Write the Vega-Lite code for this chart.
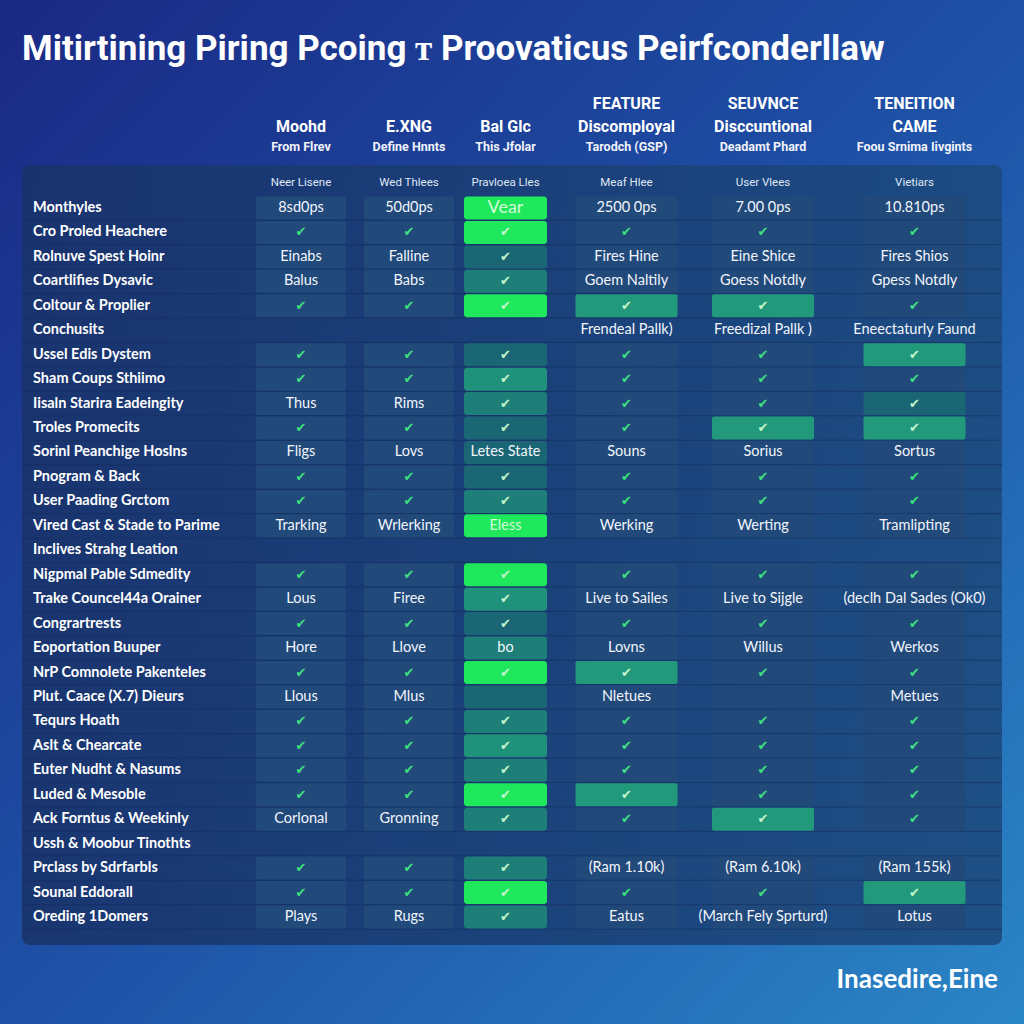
{
  "$schema": "https://vega.github.io/schema/vega-lite/v6.json",
  "width": 1024,
  "height": 1024,
  "autosize": {"type": "fit", "contains": "padding"},
  "padding": 0,
  "background": "#1f4fa0",
  "config": {"view": {"stroke": null}},
  "datasets": {
    "rows": [
      {"r": 1, "label": "Monthyles"},
      {"r": 2, "label": "Cro Proled Heachere"},
      {"r": 3, "label": "Rolnuve Spest Hoinr"},
      {"r": 4, "label": "Coartlifies Dysavic"},
      {"r": 5, "label": "Coltour & Proplier"},
      {"r": 6, "label": "Conchusits"},
      {"r": 7, "label": "Ussel Edis Dystem"},
      {"r": 8, "label": "Sham Coups Sthiimo"},
      {"r": 9, "label": "Iisaln Starira Eadeingity"},
      {"r": 10, "label": "Troles Promecits"},
      {"r": 11, "label": "Sorinl Peanchige Hoslns"},
      {"r": 12, "label": "Pnogram & Back"},
      {"r": 13, "label": "User Paading Grctom"},
      {"r": 14, "label": "Vired Cast & Stade to Parime"},
      {"r": 15, "label": "Inclives Strahg Leation"},
      {"r": 16, "label": "Nigpmal Pable Sdmedity"},
      {"r": 17, "label": "Trake Councel44a Orainer"},
      {"r": 18, "label": "Congrartrests"},
      {"r": 19, "label": "Eoportation Buuper"},
      {"r": 20, "label": "NrP Comnolete Pakenteles"},
      {"r": 21, "label": "Plut. Caace (X.7) Dieurs"},
      {"r": 22, "label": "Tequrs Hoath"},
      {"r": 23, "label": "Aslt & Chearcate"},
      {"r": 24, "label": "Euter Nudht & Nasums"},
      {"r": 25, "label": "Luded & Mesoble"},
      {"r": 26, "label": "Ack Forntus & Weekinly"},
      {"r": 27, "label": "Ussh & Moobur Tinothts"},
      {"r": 28, "label": "Prclass by Sdrfarbls"},
      {"r": 29, "label": "Sounal Eddorall"},
      {"r": 30, "label": "Oreding 1Domers"}
    ],
    "headers": [
      {"c": 1, "top": "", "main": "Moohd", "sub": "From Flrev", "cap": "Neer Lisene"},
      {"c": 2, "top": "", "main": "E.XNG", "sub": "Define Hnnts", "cap": "Wed Thlees"},
      {"c": 3, "top": "", "main": "Bal Glc", "sub": "This Jfolar", "cap": "Pravloea Lles"},
      {"c": 4, "top": "FEATURE", "main": "Discomployal", "sub": "Tarodch (GSP)", "cap": "Meaf Hlee"},
      {"c": 5, "top": "SEUVNCE", "main": "Disccuntional", "sub": "Deadamt Phard", "cap": "User Vlees"},
      {"c": 6, "top": "TENEITION", "main": "CAME", "sub": "Foou Srnima Iivgints", "cap": "Vietiars"}
    ],
    "cells": [
      {"r": 1, "c": 1, "v": "8sd0ps", "f": "plain"},
      {"r": 1, "c": 2, "v": "50d0ps", "f": "plain"},
      {"r": 1, "c": 3, "v": "Vear", "f": "bright"},
      {"r": 1, "c": 4, "v": "2500 0ps", "f": "plain"},
      {"r": 1, "c": 5, "v": "7.00 0ps", "f": "plain"},
      {"r": 1, "c": 6, "v": "10.810ps", "f": "plain"},
      {"r": 2, "c": 1, "v": "✔", "f": "plain"},
      {"r": 2, "c": 2, "v": "✔", "f": "plain"},
      {"r": 2, "c": 3, "v": "✔", "f": "bright"},
      {"r": 2, "c": 4, "v": "✔", "f": "plain"},
      {"r": 2, "c": 5, "v": "✔", "f": "plain"},
      {"r": 2, "c": 6, "v": "✔", "f": "plain"},
      {"r": 3, "c": 1, "v": "Einabs", "f": "plain"},
      {"r": 3, "c": 2, "v": "Falline", "f": "plain"},
      {"r": 3, "c": 3, "v": "✔", "f": "tealdark"},
      {"r": 3, "c": 4, "v": "Fires Hine", "f": "plain"},
      {"r": 3, "c": 5, "v": "Eine Shice", "f": "plain"},
      {"r": 3, "c": 6, "v": "Fires Shios", "f": "plain"},
      {"r": 4, "c": 1, "v": "Balus", "f": "plain"},
      {"r": 4, "c": 2, "v": "Babs", "f": "plain"},
      {"r": 4, "c": 3, "v": "✔", "f": "teal"},
      {"r": 4, "c": 4, "v": "Goem Naltily", "f": "plain"},
      {"r": 4, "c": 5, "v": "Goess Notdly", "f": "plain"},
      {"r": 4, "c": 6, "v": "Gpess Notdly", "f": "plain"},
      {"r": 5, "c": 1, "v": "✔", "f": "plain"},
      {"r": 5, "c": 2, "v": "✔", "f": "plain"},
      {"r": 5, "c": 3, "v": "✔", "f": "bright"},
      {"r": 5, "c": 4, "v": "✔", "f": "hl"},
      {"r": 5, "c": 5, "v": "✔", "f": "hl"},
      {"r": 5, "c": 6, "v": "✔", "f": "plain"},
      {"r": 6, "c": 4, "v": "Frendeal Pallk)", "f": "none"},
      {"r": 6, "c": 5, "v": "Freedizal Pallk )", "f": "none"},
      {"r": 6, "c": 6, "v": "Eneectaturly Faund", "f": "none"},
      {"r": 7, "c": 1, "v": "✔", "f": "plain"},
      {"r": 7, "c": 2, "v": "✔", "f": "plain"},
      {"r": 7, "c": 3, "v": "✔", "f": "tealdark"},
      {"r": 7, "c": 4, "v": "✔", "f": "plain"},
      {"r": 7, "c": 5, "v": "✔", "f": "plain"},
      {"r": 7, "c": 6, "v": "✔", "f": "hl"},
      {"r": 8, "c": 1, "v": "✔", "f": "plain"},
      {"r": 8, "c": 2, "v": "✔", "f": "plain"},
      {"r": 8, "c": 3, "v": "✔", "f": "tealgreen"},
      {"r": 8, "c": 4, "v": "✔", "f": "plain"},
      {"r": 8, "c": 5, "v": "✔", "f": "plain"},
      {"r": 8, "c": 6, "v": "✔", "f": "plain"},
      {"r": 9, "c": 1, "v": "Thus", "f": "plain"},
      {"r": 9, "c": 2, "v": "Rims", "f": "plain"},
      {"r": 9, "c": 3, "v": "✔", "f": "teal"},
      {"r": 9, "c": 4, "v": "✔", "f": "plain"},
      {"r": 9, "c": 5, "v": "✔", "f": "plain"},
      {"r": 9, "c": 6, "v": "✔", "f": "tealdark"},
      {"r": 10, "c": 1, "v": "✔", "f": "plain"},
      {"r": 10, "c": 2, "v": "✔", "f": "plain"},
      {"r": 10, "c": 3, "v": "✔", "f": "tealdark"},
      {"r": 10, "c": 4, "v": "✔", "f": "plain"},
      {"r": 10, "c": 5, "v": "✔", "f": "hl"},
      {"r": 10, "c": 6, "v": "✔", "f": "hl"},
      {"r": 11, "c": 1, "v": "Fligs", "f": "plain"},
      {"r": 11, "c": 2, "v": "Lovs", "f": "plain"},
      {"r": 11, "c": 3, "v": "Letes State", "f": "tealdark"},
      {"r": 11, "c": 4, "v": "Souns", "f": "plain"},
      {"r": 11, "c": 5, "v": "Sorius", "f": "plain"},
      {"r": 11, "c": 6, "v": "Sortus", "f": "plain"},
      {"r": 12, "c": 1, "v": "✔", "f": "plain"},
      {"r": 12, "c": 2, "v": "✔", "f": "plain"},
      {"r": 12, "c": 3, "v": "✔", "f": "tealdark"},
      {"r": 12, "c": 4, "v": "✔", "f": "plain"},
      {"r": 12, "c": 5, "v": "✔", "f": "plain"},
      {"r": 12, "c": 6, "v": "✔", "f": "plain"},
      {"r": 13, "c": 1, "v": "✔", "f": "plain"},
      {"r": 13, "c": 2, "v": "✔", "f": "plain"},
      {"r": 13, "c": 3, "v": "✔", "f": "teal"},
      {"r": 13, "c": 4, "v": "✔", "f": "plain"},
      {"r": 13, "c": 5, "v": "✔", "f": "plain"},
      {"r": 13, "c": 6, "v": "✔", "f": "plain"},
      {"r": 14, "c": 1, "v": "Trarking", "f": "plain"},
      {"r": 14, "c": 2, "v": "Wrlerking", "f": "plain"},
      {"r": 14, "c": 3, "v": "Eless", "f": "bright"},
      {"r": 14, "c": 4, "v": "Werking", "f": "plain"},
      {"r": 14, "c": 5, "v": "Werting", "f": "plain"},
      {"r": 14, "c": 6, "v": "Tramlipting", "f": "plain"},
      {"r": 16, "c": 1, "v": "✔", "f": "plain"},
      {"r": 16, "c": 2, "v": "✔", "f": "plain"},
      {"r": 16, "c": 3, "v": "✔", "f": "bright"},
      {"r": 16, "c": 4, "v": "✔", "f": "plain"},
      {"r": 16, "c": 5, "v": "✔", "f": "plain"},
      {"r": 16, "c": 6, "v": "✔", "f": "plain"},
      {"r": 17, "c": 1, "v": "Lous", "f": "plain"},
      {"r": 17, "c": 2, "v": "Firee", "f": "plain"},
      {"r": 17, "c": 3, "v": "✔", "f": "tealgreen"},
      {"r": 17, "c": 4, "v": "Live to Sailes", "f": "plain"},
      {"r": 17, "c": 5, "v": "Live to Sijgle", "f": "plain"},
      {"r": 17, "c": 6, "v": "(declh Dal Sades (Ok0)", "f": "plain"},
      {"r": 18, "c": 1, "v": "✔", "f": "plain"},
      {"r": 18, "c": 2, "v": "✔", "f": "plain"},
      {"r": 18, "c": 3, "v": "✔", "f": "tealdark"},
      {"r": 18, "c": 4, "v": "✔", "f": "plain"},
      {"r": 18, "c": 5, "v": "✔", "f": "plain"},
      {"r": 18, "c": 6, "v": "✔", "f": "plain"},
      {"r": 19, "c": 1, "v": "Hore", "f": "plain"},
      {"r": 19, "c": 2, "v": "Llove", "f": "plain"},
      {"r": 19, "c": 3, "v": "bo", "f": "teal"},
      {"r": 19, "c": 4, "v": "Lovns", "f": "plain"},
      {"r": 19, "c": 5, "v": "Willus", "f": "plain"},
      {"r": 19, "c": 6, "v": "Werkos", "f": "plain"},
      {"r": 20, "c": 1, "v": "✔", "f": "plain"},
      {"r": 20, "c": 2, "v": "✔", "f": "plain"},
      {"r": 20, "c": 3, "v": "✔", "f": "bright"},
      {"r": 20, "c": 4, "v": "✔", "f": "hl"},
      {"r": 20, "c": 5, "v": "✔", "f": "plain"},
      {"r": 20, "c": 6, "v": "✔", "f": "plain"},
      {"r": 21, "c": 1, "v": "Llous", "f": "plain"},
      {"r": 21, "c": 2, "v": "Mlus", "f": "plain"},
      {"r": 21, "c": 3, "v": "", "f": "tealdark"},
      {"r": 21, "c": 4, "v": "Nletues", "f": "plain"},
      {"r": 21, "c": 5, "v": "", "f": "plain"},
      {"r": 21, "c": 6, "v": "Metues", "f": "plain"},
      {"r": 22, "c": 1, "v": "✔", "f": "plain"},
      {"r": 22, "c": 2, "v": "✔", "f": "plain"},
      {"r": 22, "c": 3, "v": "✔", "f": "teal"},
      {"r": 22, "c": 4, "v": "✔", "f": "plain"},
      {"r": 22, "c": 5, "v": "✔", "f": "plain"},
      {"r": 22, "c": 6, "v": "✔", "f": "plain"},
      {"r": 23, "c": 1, "v": "✔", "f": "plain"},
      {"r": 23, "c": 2, "v": "✔", "f": "plain"},
      {"r": 23, "c": 3, "v": "✔", "f": "tealgreen"},
      {"r": 23, "c": 4, "v": "✔", "f": "plain"},
      {"r": 23, "c": 5, "v": "✔", "f": "plain"},
      {"r": 23, "c": 6, "v": "✔", "f": "plain"},
      {"r": 24, "c": 1, "v": "✔", "f": "plain"},
      {"r": 24, "c": 2, "v": "✔", "f": "plain"},
      {"r": 24, "c": 3, "v": "✔", "f": "teal"},
      {"r": 24, "c": 4, "v": "✔", "f": "plain"},
      {"r": 24, "c": 5, "v": "✔", "f": "plain"},
      {"r": 24, "c": 6, "v": "✔", "f": "plain"},
      {"r": 25, "c": 1, "v": "✔", "f": "plain"},
      {"r": 25, "c": 2, "v": "✔", "f": "plain"},
      {"r": 25, "c": 3, "v": "✔", "f": "bright"},
      {"r": 25, "c": 4, "v": "✔", "f": "hl"},
      {"r": 25, "c": 5, "v": "✔", "f": "plain"},
      {"r": 25, "c": 6, "v": "✔", "f": "plain"},
      {"r": 26, "c": 1, "v": "Corlonal", "f": "plain"},
      {"r": 26, "c": 2, "v": "Gronning", "f": "plain"},
      {"r": 26, "c": 3, "v": "✔", "f": "teal"},
      {"r": 26, "c": 4, "v": "✔", "f": "plain"},
      {"r": 26, "c": 5, "v": "✔", "f": "hl"},
      {"r": 26, "c": 6, "v": "✔", "f": "plain"},
      {"r": 28, "c": 1, "v": "✔", "f": "plain"},
      {"r": 28, "c": 2, "v": "✔", "f": "plain"},
      {"r": 28, "c": 3, "v": "✔", "f": "teal"},
      {"r": 28, "c": 4, "v": "(Ram 1.10k)", "f": "plain"},
      {"r": 28, "c": 5, "v": "(Ram 6.10k)", "f": "plain"},
      {"r": 28, "c": 6, "v": "(Ram 155k)", "f": "plain"},
      {"r": 29, "c": 1, "v": "✔", "f": "plain"},
      {"r": 29, "c": 2, "v": "✔", "f": "plain"},
      {"r": 29, "c": 3, "v": "✔", "f": "bright"},
      {"r": 29, "c": 4, "v": "✔", "f": "plain"},
      {"r": 29, "c": 5, "v": "✔", "f": "plain"},
      {"r": 29, "c": 6, "v": "✔", "f": "hl"},
      {"r": 30, "c": 1, "v": "Plays", "f": "plain"},
      {"r": 30, "c": 2, "v": "Rugs", "f": "plain"},
      {"r": 30, "c": 3, "v": "✔", "f": "teal"},
      {"r": 30, "c": 4, "v": "Eatus", "f": "plain"},
      {"r": 30, "c": 5, "v": "(March Fely Sprturd)", "f": "plain"},
      {"r": 30, "c": 6, "v": "Lotus", "f": "plain"}
    ]
  },
  "layer": [
    {
      "data": {"values": [{}]},
      "mark": {"type": "rect", "color": {"gradient": "linear", "x1": 0, "y1": 0, "x2": 1, "y2": 1, "stops": [{"offset": 0, "color": "#1a2984"}, {"offset": 0.5, "color": "#1e50a6"}, {"offset": 1, "color": "#2a86c6"}]}},
      "encoding": {
        "x": {"datum": -1, "type": "quantitative", "scale": {"domain": [-1, 0, 1, 2, 3, 4, 5, 6, 7], "range": [0, 33, 301, 409, 505.5, 626.5, 763, 914.5, 1024], "nice": false, "zero": false}, "axis": null},
        "x2": {"datum": 7},
        "y": {"datum": -7.508, "type": "quantitative", "scale": {"domain": [-7.508, 34.377], "range": [0, 1024], "nice": false, "zero": false}, "axis": null},
        "y2": {"datum": 34.377}
      }
    },
    {
      "data": {"values": [{}]},
      "mark": {"type": "rect", "cornerRadius": 8, "opacity": 0.9, "color": {"gradient": "linear", "x1": 0, "y1": 0, "x2": 1, "y2": 0, "stops": [{"offset": 0, "color": "#19336b"}, {"offset": 1, "color": "#1c4a7e"}]}},
      "encoding": {
        "x": {"datum": -0.3333, "type": "quantitative", "scale": {"domain": [-1, 0, 1, 2, 3, 4, 5, 6, 7], "range": [0, 33, 301, 409, 505.5, 626.5, 763, 914.5, 1024], "nice": false, "zero": false}, "axis": null},
        "x2": {"datum": 6.799},
        "y": {"datum": -0.759, "type": "quantitative", "scale": {"domain": [-7.508, 34.377], "range": [0, 1024], "nice": false, "zero": false}, "axis": null},
        "y2": {"datum": 31.146}
      }
    },
    {
      "data": {"name": "rows"},
      "mark": {"type": "rule", "stroke": "#152d5c", "strokeWidth": 1, "opacity": 0.6, "yOffset": 12.2},
      "encoding": {
        "x": {"datum": -0.3333, "type": "quantitative", "scale": {"domain": [-1, 0, 1, 2, 3, 4, 5, 6, 7], "range": [0, 33, 301, 409, 505.5, 626.5, 763, 914.5, 1024], "nice": false, "zero": false}, "axis": null},
        "x2": {"datum": 6.799},
        "y": {"field": "r", "type": "quantitative", "scale": {"domain": [-7.508, 34.377], "range": [0, 1024], "nice": false, "zero": false}, "axis": null}
      }
    },
    {
      "data": {"name": "cells"},
      "transform": [{"filter": "datum.f !== 'none' && datum.c <= 2"}],
      "mark": {"type": "rect", "width": 90, "height": 23, "cornerRadius": 2},
      "encoding": {
        "x": {"field": "c", "type": "quantitative", "scale": {"domain": [-1, 0, 1, 2, 3, 4, 5, 6, 7], "range": [0, 33, 301, 409, 505.5, 626.5, 763, 914.5, 1024], "nice": false, "zero": false}, "axis": null},
        "y": {"field": "r", "type": "quantitative", "scale": {"domain": [-7.508, 34.377], "range": [0, 1024], "nice": false, "zero": false}, "axis": null},
        "fill": {"field": "f", "type": "nominal", "legend": null, "scale": {"domain": ["plain", "bright", "hl", "teal", "tealdark", "tealgreen"], "range": ["#21497a", "#1fe85c", "#22997a", "#1d7f77", "#1b6674", "#20917a"]}}
      }
    },
    {
      "data": {"name": "cells"},
      "transform": [{"filter": "datum.f !== 'none' && datum.c === 3"}],
      "mark": {"type": "rect", "width": 83, "height": 23, "cornerRadius": 3},
      "encoding": {
        "x": {"field": "c", "type": "quantitative", "scale": {"domain": [-1, 0, 1, 2, 3, 4, 5, 6, 7], "range": [0, 33, 301, 409, 505.5, 626.5, 763, 914.5, 1024], "nice": false, "zero": false}, "axis": null},
        "y": {"field": "r", "type": "quantitative", "scale": {"domain": [-7.508, 34.377], "range": [0, 1024], "nice": false, "zero": false}, "axis": null},
        "fill": {"field": "f", "type": "nominal", "legend": null, "scale": {"domain": ["plain", "bright", "hl", "teal", "tealdark", "tealgreen"], "range": ["#21497a", "#1fe85c", "#22997a", "#1d7f77", "#1b6674", "#20917a"]}}
      }
    },
    {
      "data": {"name": "cells"},
      "transform": [{"filter": "datum.f !== 'none' && datum.c >= 4"}],
      "mark": {"type": "rect", "width": 102, "height": 23, "cornerRadius": 2},
      "encoding": {
        "x": {"field": "c", "type": "quantitative", "scale": {"domain": [-1, 0, 1, 2, 3, 4, 5, 6, 7], "range": [0, 33, 301, 409, 505.5, 626.5, 763, 914.5, 1024], "nice": false, "zero": false}, "axis": null},
        "y": {"field": "r", "type": "quantitative", "scale": {"domain": [-7.508, 34.377], "range": [0, 1024], "nice": false, "zero": false}, "axis": null},
        "fill": {"field": "f", "type": "nominal", "legend": null, "scale": {"domain": ["plain", "bright", "hl", "teal", "tealdark", "tealgreen"], "range": ["#21497a", "#1fe85c", "#22997a", "#1d7f77", "#1b6674", "#20917a"]}}
      }
    },
    {
      "data": {"name": "cells"},
      "transform": [{"filter": "datum.v === '✔'"}],
      "mark": {"type": "text", "font": "DejaVu Sans", "fontSize": 13, "baseline": "middle", "align": "center"},
      "encoding": {
        "x": {"field": "c", "type": "quantitative", "scale": {"domain": [-1, 0, 1, 2, 3, 4, 5, 6, 7], "range": [0, 33, 301, 409, 505.5, 626.5, 763, 914.5, 1024], "nice": false, "zero": false}, "axis": null},
        "y": {"field": "r", "type": "quantitative", "scale": {"domain": [-7.508, 34.377], "range": [0, 1024], "nice": false, "zero": false}, "axis": null},
        "text": {"field": "v"},
        "color": {"condition": {"test": "datum.f === 'plain'", "value": "#3ee07e"}, "value": "#c2f4cc"}
      }
    },
    {
      "data": {"name": "cells"},
      "transform": [{"filter": "datum.v !== '✔'"}],
      "mark": {"type": "text", "font": "Lato", "baseline": "middle", "align": "center"},
      "encoding": {
        "x": {"field": "c", "type": "quantitative", "scale": {"domain": [-1, 0, 1, 2, 3, 4, 5, 6, 7], "range": [0, 33, 301, 409, 505.5, 626.5, 763, 914.5, 1024], "nice": false, "zero": false}, "axis": null},
        "y": {"field": "r", "type": "quantitative", "scale": {"domain": [-7.508, 34.377], "range": [0, 1024], "nice": false, "zero": false}, "axis": null},
        "text": {"field": "v"},
        "size": {"condition": {"test": "datum.v === 'Vear'", "value": 18}, "value": 14.5},
        "color": {"condition": {"test": "datum.f === 'bright'", "value": "#d2fbd8"}, "value": "#f2f5fc"}
      }
    },
    {
      "data": {"name": "rows"},
      "mark": {"type": "text", "font": "Lato", "fontWeight": "bold", "fontSize": 14.5, "color": "#ffffff", "baseline": "middle", "align": "left"},
      "encoding": {
        "x": {"datum": 0, "type": "quantitative", "scale": {"domain": [-1, 0, 1, 2, 3, 4, 5, 6, 7], "range": [0, 33, 301, 409, 505.5, 626.5, 763, 914.5, 1024], "nice": false, "zero": false}, "axis": null},
        "y": {"field": "r", "type": "quantitative", "scale": {"domain": [-7.508, 34.377], "range": [0, 1024], "nice": false, "zero": false}, "axis": null},
        "text": {"field": "label"}
      }
    },
    {
      "data": {"name": "headers"},
      "mark": {"type": "text", "font": "Roboto", "fontWeight": "bold", "fontSize": 16, "letterSpacing": -0.6, "color": "#ffffff", "baseline": "middle", "align": "center"},
      "encoding": {
        "x": {"field": "c", "type": "quantitative", "scale": {"domain": [-1, 0, 1, 2, 3, 4, 5, 6, 7], "range": [0, 33, 301, 409, 505.5, 626.5, 763, 914.5, 1024], "nice": false, "zero": false}, "axis": null},
        "y": {"datum": -3.254, "type": "quantitative", "scale": {"domain": [-7.508, 34.377], "range": [0, 1024], "nice": false, "zero": false}, "axis": null},
        "text": {"field": "top"}
      }
    },
    {
      "data": {"name": "headers"},
      "mark": {"type": "text", "font": "Roboto", "fontWeight": "bold", "fontSize": 16, "letterSpacing": -0.6, "color": "#ffffff", "baseline": "middle", "align": "center"},
      "encoding": {
        "x": {"field": "c", "type": "quantitative", "scale": {"domain": [-1, 0, 1, 2, 3, 4, 5, 6, 7], "range": [0, 33, 301, 409, 505.5, 626.5, 763, 914.5, 1024], "nice": false, "zero": false}, "axis": null},
        "y": {"datum": -2.313, "type": "quantitative", "scale": {"domain": [-7.508, 34.377], "range": [0, 1024], "nice": false, "zero": false}, "axis": null},
        "text": {"field": "main"}
      }
    },
    {
      "data": {"name": "headers"},
      "mark": {"type": "text", "font": "Roboto", "fontWeight": "bold", "fontSize": 12.5, "letterSpacing": -0.4, "color": "#f0f3fa", "baseline": "middle", "align": "center"},
      "encoding": {
        "x": {"field": "c", "type": "quantitative", "scale": {"domain": [-1, 0, 1, 2, 3, 4, 5, 6, 7], "range": [0, 33, 301, 409, 505.5, 626.5, 763, 914.5, 1024], "nice": false, "zero": false}, "axis": null},
        "y": {"datum": -1.495, "type": "quantitative", "scale": {"domain": [-7.508, 34.377], "range": [0, 1024], "nice": false, "zero": false}, "axis": null},
        "text": {"field": "sub"}
      }
    },
    {
      "data": {"name": "headers"},
      "mark": {"type": "text", "font": "Roboto", "fontSize": 11.5, "letterSpacing": -0.2, "color": "#dfe6f4", "baseline": "middle", "align": "center"},
      "encoding": {
        "x": {"field": "c", "type": "quantitative", "scale": {"domain": [-1, 0, 1, 2, 3, 4, 5, 6, 7], "range": [0, 33, 301, 409, 505.5, 626.5, 763, 914.5, 1024], "nice": false, "zero": false}, "axis": null},
        "y": {"datum": -0.02, "type": "quantitative", "scale": {"domain": [-7.508, 34.377], "range": [0, 1024], "nice": false, "zero": false}, "axis": null},
        "text": {"field": "cap"}
      }
    },
    {
      "data": {"values": [{"t": "Mitirtining Piring Pcoing ᴛ Proovaticus Peirfconderllaw"}]},
      "mark": {"type": "text", "font": "Roboto", "fontWeight": "bold", "fontSize": 35, "letterSpacing": -0.6, "color": "#ffffff", "baseline": "middle", "align": "left"},
      "encoding": {
        "x": {"datum": -0.3333, "type": "quantitative", "scale": {"domain": [-1, 0, 1, 2, 3, 4, 5, 6, 7], "range": [0, 33, 301, 409, 505.5, 626.5, 763, 914.5, 1024], "nice": false, "zero": false}, "axis": null},
        "y": {"datum": -5.5, "type": "quantitative", "scale": {"domain": [-7.508, 34.377], "range": [0, 1024], "nice": false, "zero": false}, "axis": null},
        "text": {"field": "t"}
      }
    },
    {
      "data": {"values": [{"t": "Inasedire,Eine"}]},
      "mark": {"type": "text", "font": "Lato", "fontWeight": "bold", "fontSize": 26, "letterSpacing": -0.3, "color": "#ffffff", "baseline": "middle", "align": "right"},
      "encoding": {
        "x": {"datum": 6.7626, "type": "quantitative", "scale": {"domain": [-1, 0, 1, 2, 3, 4, 5, 6, 7], "range": [0, 33, 301, 409, 505.5, 626.5, 763, 914.5, 1024], "nice": false, "zero": false}, "axis": null},
        "y": {"datum": 32.577, "type": "quantitative", "scale": {"domain": [-7.508, 34.377], "range": [0, 1024], "nice": false, "zero": false}, "axis": null},
        "text": {"field": "t"}
      }
    }
  ]
}
